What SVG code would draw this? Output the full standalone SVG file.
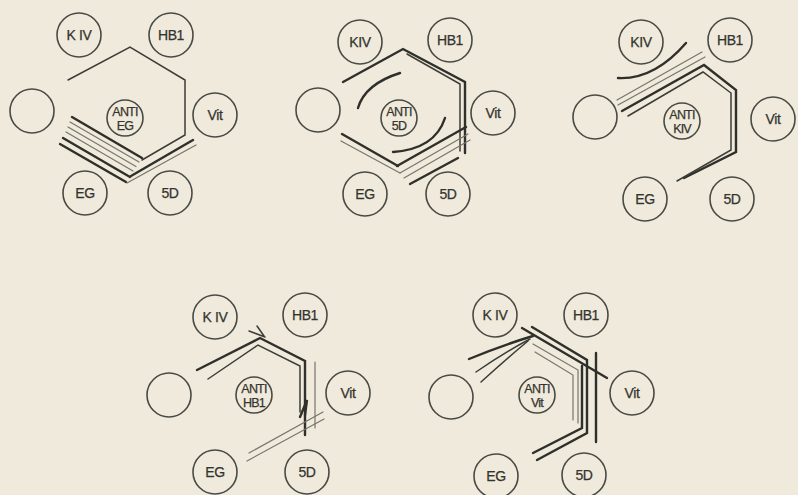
<svg xmlns="http://www.w3.org/2000/svg" width="798" height="495" viewBox="0 0 798 495">
<style>
.bg{fill:#efeadb}
.n circle{fill:none;stroke:#4a4a44;stroke-width:1.6}
.n text{font-family:"Liberation Sans",Arial,sans-serif;font-size:14px;fill:#34342f;stroke:#34342f;stroke-width:0.25;text-anchor:middle;letter-spacing:-0.4px}
.c text{font-size:12.5px;letter-spacing:-0.8px}
.k{fill:none;stroke:#2f2f2b;stroke-width:2.4;stroke-linecap:round;stroke-linejoin:miter}
.m{fill:none;stroke:#3d3d38;stroke-width:1.5;stroke-linecap:round}
.t{fill:none;stroke:#77746c;stroke-width:1.2;stroke-linecap:round}
</style>
<rect class="bg" x="0" y="0" width="798" height="495"/>

<!-- Panel 1 -->
<g id="p1-kiv" class="n"><circle cx="79" cy="35" r="22"/><text x="79" y="40">K IV</text></g>
<g id="p1-hb1" class="n"><circle cx="171" cy="35" r="22"/><text x="171" y="40">HB1</text></g>
<g id="p1-empty" class="n"><circle cx="32" cy="111" r="22"/></g>
<g id="p1-anti" class="n c"><circle cx="125" cy="118" r="18"/><text x="125" y="116">ANTI</text><text x="125" y="130">EG</text></g>
<g id="p1-vit" class="n"><circle cx="215" cy="115" r="22"/><text x="215" y="120">Vit</text></g>
<g id="p1-eg" class="n"><circle cx="85" cy="193" r="22"/><text x="85" y="198">EG</text></g>
<g id="p1-5d" class="n"><circle cx="170" cy="193" r="22"/><text x="170" y="198">5D</text></g>

<!-- Panel 2 -->
<g id="p2-kiv" class="n"><circle cx="360" cy="42" r="22"/><text x="360" y="47">KIV</text></g>
<g id="p2-hb1" class="n"><circle cx="450" cy="40" r="22"/><text x="450" y="45">HB1</text></g>
<g id="p2-empty" class="n"><circle cx="318" cy="110" r="22"/></g>
<g id="p2-anti" class="n c"><circle cx="399" cy="118" r="18"/><text x="399" y="116">ANTI</text><text x="399" y="130">5D</text></g>
<g id="p2-vit" class="n"><circle cx="493" cy="113" r="22"/><text x="493" y="118">Vit</text></g>
<g id="p2-eg" class="n"><circle cx="365" cy="194" r="22"/><text x="365" y="199">EG</text></g>
<g id="p2-5d" class="n"><circle cx="448" cy="194" r="22"/><text x="448" y="199">5D</text></g>

<!-- Panel 3 -->
<g id="p3-kiv" class="n"><circle cx="641" cy="42" r="22"/><text x="641" y="47">KIV</text></g>
<g id="p3-hb1" class="n"><circle cx="730" cy="40" r="22"/><text x="730" y="45">HB1</text></g>
<g id="p3-empty" class="n"><circle cx="595" cy="117" r="22"/></g>
<g id="p3-anti" class="n c"><circle cx="682" cy="121" r="18"/><text x="682" y="119">ANTI</text><text x="682" y="133">KIV</text></g>
<g id="p3-vit" class="n"><circle cx="773" cy="119" r="22"/><text x="773" y="124">Vit</text></g>
<g id="p3-eg" class="n"><circle cx="645" cy="199" r="22"/><text x="645" y="204">EG</text></g>
<g id="p3-5d" class="n"><circle cx="732" cy="199" r="22"/><text x="732" y="204">5D</text></g>

<!-- Panel 4 -->
<g id="p4-kiv" class="n"><circle cx="215" cy="317" r="22"/><text x="215" y="322">K IV</text></g>
<g id="p4-hb1" class="n"><circle cx="305" cy="315" r="22"/><text x="305" y="320">HB1</text></g>
<g id="p4-empty" class="n"><circle cx="169" cy="395" r="22"/></g>
<g id="p4-anti" class="n c"><circle cx="254" cy="395" r="18"/><text x="254" y="393">ANTI</text><text x="254" y="407">HB1</text></g>
<g id="p4-vit" class="n"><circle cx="348" cy="393" r="22"/><text x="348" y="398">Vit</text></g>
<g id="p4-eg" class="n"><circle cx="215" cy="472" r="22"/><text x="215" y="477">EG</text></g>
<g id="p4-5d" class="n"><circle cx="307" cy="472" r="22"/><text x="307" y="477">5D</text></g>

<!-- Panel 5 -->
<g id="p5-kiv" class="n"><circle cx="495" cy="315" r="22"/><text x="495" y="320">K IV</text></g>
<g id="p5-hb1" class="n"><circle cx="586" cy="315" r="22"/><text x="586" y="320">HB1</text></g>
<g id="p5-empty" class="n"><circle cx="451" cy="397" r="22"/></g>
<g id="p5-anti" class="n c"><circle cx="537" cy="395" r="18"/><text x="537" y="393">ANTI</text><text x="537" y="407">Vit</text></g>
<g id="p5-vit" class="n"><circle cx="632" cy="393" r="22"/><text x="632" y="398">Vit</text></g>
<g id="p5-eg" class="n"><circle cx="496" cy="476" r="22"/><text x="496" y="481">EG</text></g>
<g id="p5-5d" class="n"><circle cx="584" cy="475" r="22"/><text x="584" y="480">5D</text></g>

<g id="connectors">
<!-- Panel 1 -->
<path class="m" d="M68,80 L130,47 L185,80 L185,135 L142,160"/>
<path class="k" d="M72,117 L142,158"/>
<path class="t" d="M70,122 L139,162"/>
<path class="t" d="M68,127 L136,166.5"/>
<path class="t" d="M66,132 L133,171"/>
<path class="k" d="M63,138 L130,177"/>
<path class="k" d="M60,144 L126,182"/>
<path class="k" d="M131,176 L193,140"/>
<path class="t" d="M127,183 L196,145"/>

<!-- Panel 2 -->
<path class="k" d="M343,82 L403,49 L465,82 L465,153"/>
<path class="m" d="M407,54 L460,84 L460,151"/>
<path class="k" d="M342,134 L398,166"/>
<path class="t" d="M341,141 L400,173"/>
<path class="k" d="M397,166 L466,127"/>
<path class="t" d="M400,173 L468,134"/>
<path class="t" d="M404,178 L470,140"/>
<path class="k" d="M410,184 L458,158"/>
<path class="k" d="M358,108 Q365,84 400,73"/>
<path class="k" d="M445,118 Q435,149 393,152"/>

<!-- Panel 3 -->
<path class="k" d="M618,78 Q654,80 686,43"/>
<path class="t" d="M617,100 L702,52"/>
<path class="t" d="M618,105 L705,57"/>
<path class="k" d="M622,111 L704,65 L736,90 L736,152 L684,178"/>
<path class="m" d="M628,116 L703,72 L731,93 L731,150 L677,181"/>

<!-- Panel 4 -->
<path class="k" d="M197,370 L260,338 L305,361 L305,435"/>
<path class="m" d="M208,379 L258,345 L300,366 L300,412"/>
<path class="t" d="M315,362 L315,428"/>
<path class="t" d="M247,461 L324,419"/>
<path class="t" d="M249,453 L323,412"/>
<path class="m" d="M249,331 L265,337 M257,326 L264,336"/>
<path class="k" d="M300,417 L307,400 L305,415"/>

<!-- Panel 5 -->
<path class="k" d="M469,359 Q500,346 533,336"/>
<path class="m" d="M476,372 Q505,352 530,339"/>
<path class="m" d="M481,382 Q505,360 528,341"/>
<path class="k" d="M522,328 L607,378"/>
<path class="k" d="M532,327 L587,360 L587,433 L537,460"/>
<path class="k" d="M582,366 L582,428 L533,453"/>
<path class="t" d="M533,344 L578,370 L578,423"/>
<path class="t" d="M535,352 L573,375 L573,420"/>
<path class="k" d="M596,353 L596,442"/>
</g>
</svg>
